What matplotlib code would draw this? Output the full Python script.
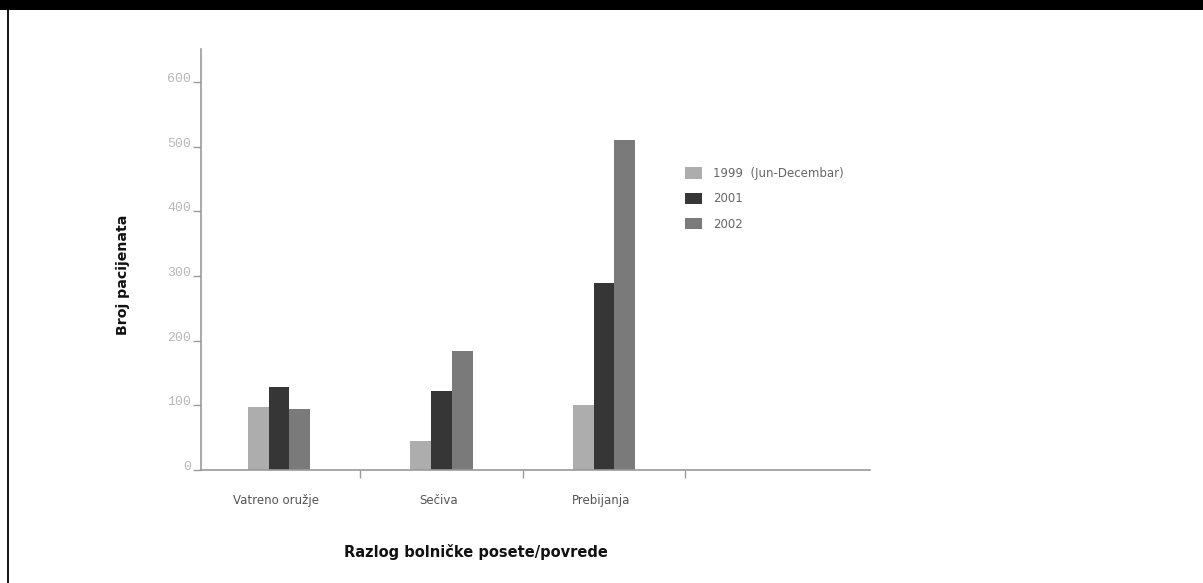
import numpy as np
import matplotlib.pyplot as plt
from matplotlib.patches import Rectangle
from matplotlib.lines import Line2D

# data
categories = ['Vatreno oružje', 'Sečiva', 'Prebijanja']
series = ['1999  (Jun-Decembar)', '2001', '2002']
v1999 = [98, 45, 100]
v2001 = [128, 122, 289]
v2002 = [95, 184, 510]
yticks = [0, 100, 200, 300, 400, 500, 600]

colors = ['#adadad', '#363636', '#7a7a7a']

fig = plt.figure(figsize=(12.03, 5.83), dpi=100)
fig.patch.set_facecolor('white')

# black band on top + thin frame line on the left
fig.patches.append(Rectangle((0, 1 - 10 / 583), 1, 10 / 583, transform=fig.transFigure,
                             facecolor='black', edgecolor='none'))
fig.lines.append(Line2D([8 / 1203, 8 / 1203], [0, 1], transform=fig.transFigure,
                        color='black', linewidth=1.3))

ax = fig.add_axes([201 / 1203, 1 - 470 / 583, (870 - 201) / 1203, (470 - 49) / 583])

x = np.arange(len(categories))
w = 0.129
for i, (vals, lab) in enumerate(zip([v1999, v2001, v2002], series)):
    ax.bar(x + (i - 1) * w, vals, width=w, color=colors[i], label=lab, linewidth=0)

ax.set_xlim(-0.48, 3.637)
ax.set_ylim(0, 651)

for s in ['top', 'right']:
    ax.spines[s].set_visible(False)
for s in ['left', 'bottom']:
    ax.spines[s].set_color('#9a9a9a')
    ax.spines[s].set_linewidth(1.2)

ax.set_yticks(yticks)
ax.set_yticklabels([str(t) for t in yticks], family='Liberation Mono', fontsize=9.5, color='#b8b8b8')
for lbl in ax.get_yticklabels():
    lbl.set_va('baseline')
ax.tick_params(axis='y', length=6, width=1, color='#9a9a9a', pad=1)

# boundary ticks without labels, category names on minor ticks
ax.set_xticks([0.5, 1.5, 2.5])
ax.set_xticklabels([])
ax.tick_params(axis='x', which='major', length=6, width=1, color='#9a9a9a')
ax.set_xticks(x - 0.02, minor=True)
ax.set_xticklabels(categories, minor=True, fontsize=8.5, color='#555555')
ax.tick_params(axis='x', which='minor', length=0, pad=17)

fig.text(123 / 1203, 1 - 275 / 583, 'Broj pacijenata', rotation=90, ha='center', va='center',
         fontsize=10.2, fontweight='bold', color='#111111')
fig.text(476 / 1203, 1 - 552 / 583, 'Razlog bolničke posete/povrede', ha='center', va='center',
         fontsize=10.5, fontweight='bold', color='#111111')

ax.legend(loc='upper left', bbox_to_anchor=(685 / 1203, 1 - 167 / 583),
          bbox_transform=fig.transFigure, frameon=False, fontsize=8.5,
          labelcolor='#666666', borderpad=0, borderaxespad=0,
          handlelength=1.44, handleheight=1.1, handletextpad=0.93, labelspacing=1.05)

fig.savefig('out.png', dpi=100)
